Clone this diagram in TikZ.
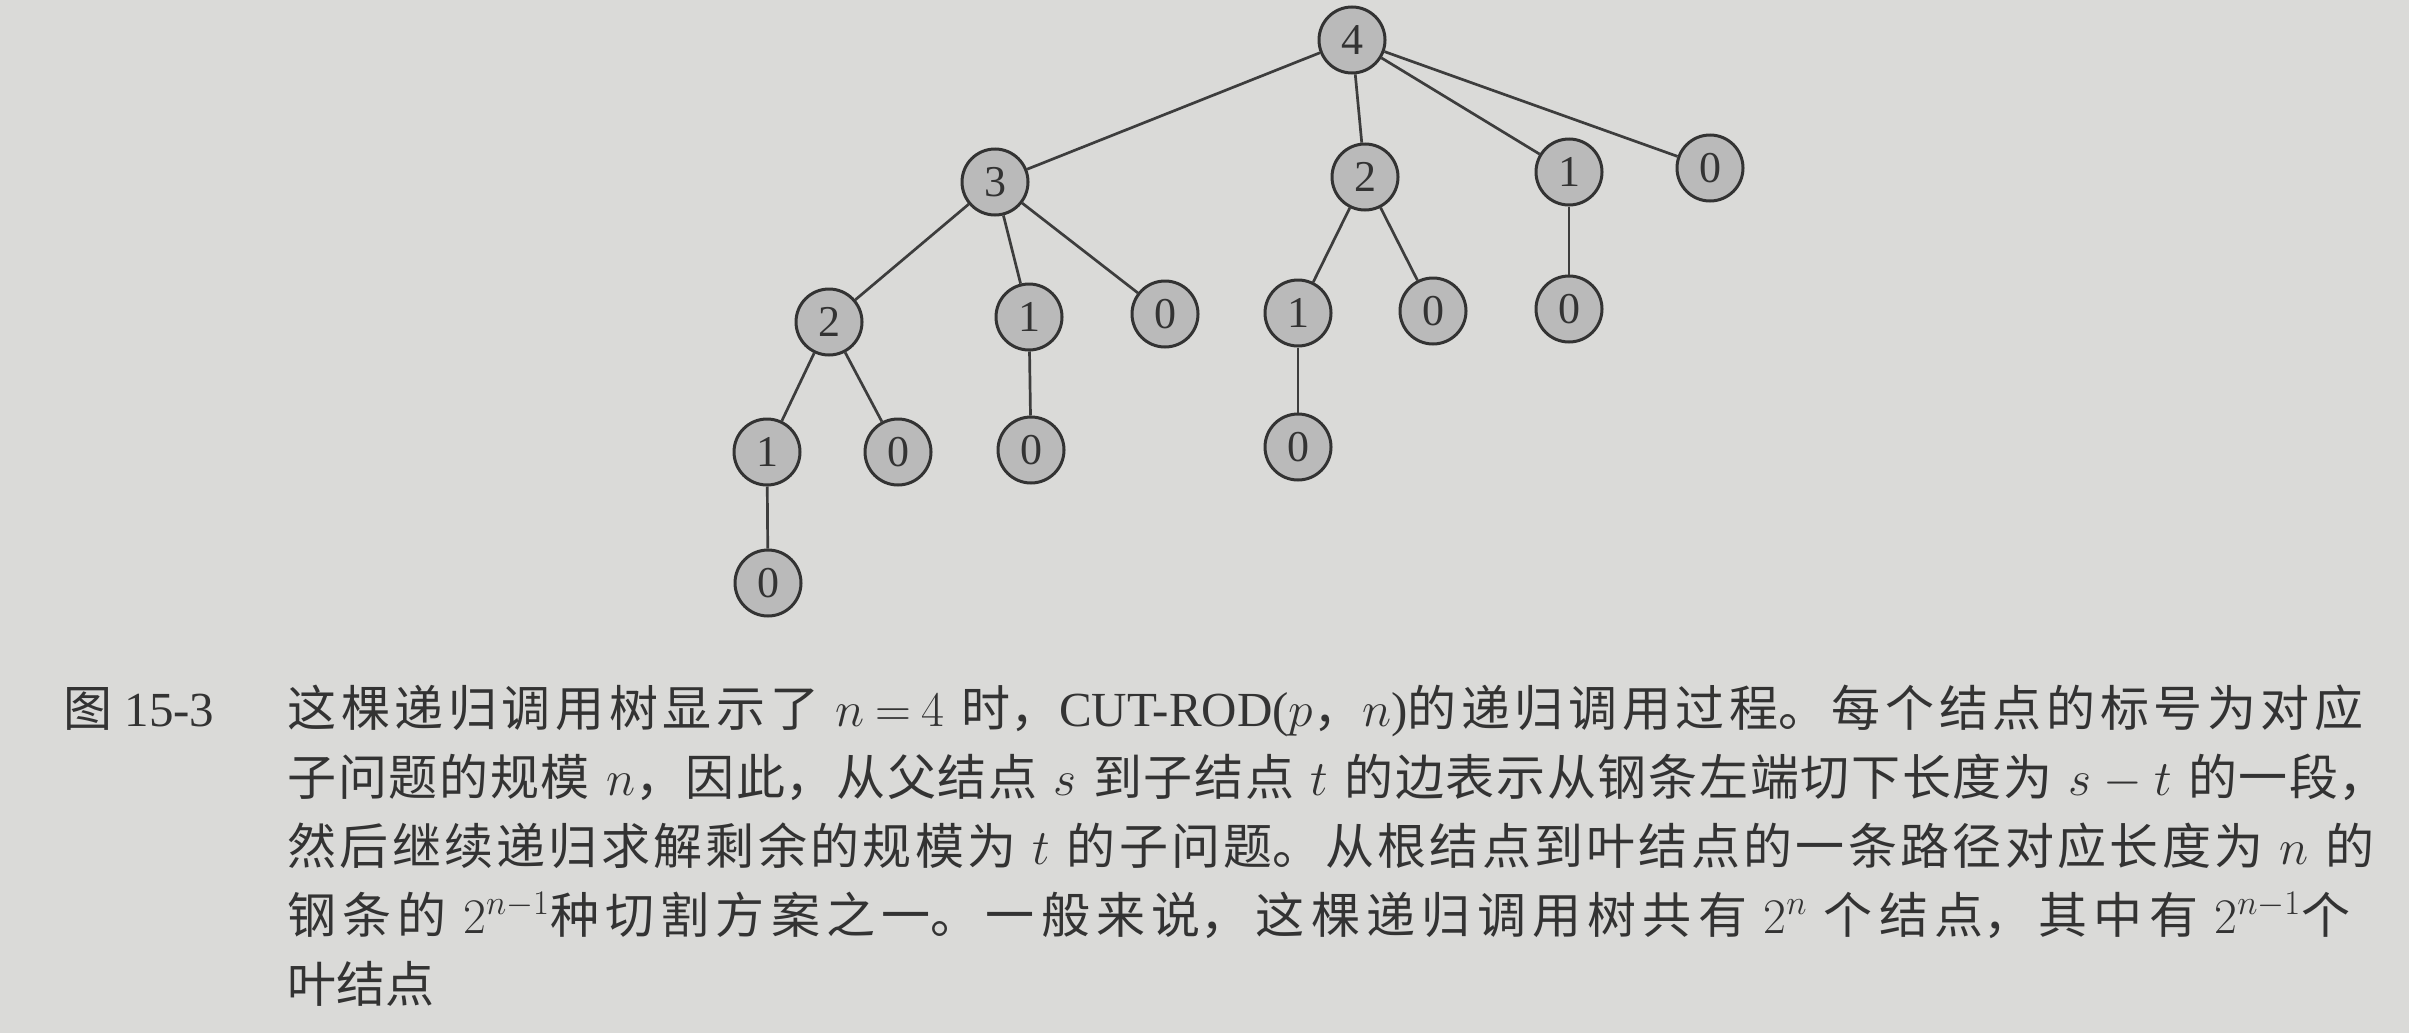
\documentclass[tikz,border=0pt]{standalone}
\usepackage{fontspec}
\setmainfont{Liberation Serif}
\newfontfamily\cjk{Noto Sans CJK SC}
\XeTeXlinebreaklocale "zh"
\XeTeXlinebreakskip=0pt plus 6pt minus 1pt
\definecolor{paper}{HTML}{DADAD8}
\definecolor{nodefill}{HTML}{BABABA}
\definecolor{ink}{HTML}{333333}
\newcommand{\capline}[1]{\parfillskip=0pt\tolerance=10000\relax\noindent #1\par}
\begin{document}
\begin{tikzpicture}[x=0.5pt,y=-0.5pt,
  tn/.style={circle, draw=ink, line width=1.5pt, fill=nodefill, minimum size=33pt,
    inner sep=0pt, font=\fontsize{22}{22}\selectfont, text=ink},
  edgeline/.style={draw=ink!95, line width=1.35pt},
  capfont/.style={font=\fontsize{24.5}{28}\selectfont, text=ink, inner sep=0pt},
  capjust/.style={capfont, anchor=base west, text width=1057pt}]
\fill[paper] (0,0) rectangle (2409,1033);
\useasboundingbox (0,0) rectangle (2409,1033);
% tree nodes
\node[tn] (r4) at (1352,40) {4};
\node[tn] (a3) at (995,182) {3};
\node[tn] (b2) at (1365,177) {2};
\node[tn] (c1) at (1569,172) {1};
\node[tn] (d0) at (1710,168) {0};
\node[tn] (e2) at (829,322) {2};
\node[tn] (f1) at (1029,317) {1};
\node[tn] (g0) at (1165,314) {0};
\node[tn] (h1) at (1298,313) {1};
\node[tn] (i0) at (1433,311) {0};
\node[tn] (j0) at (1569,309) {0};
\node[tn] (k1) at (767,452) {1};
\node[tn] (l0) at (898,452) {0};
\node[tn] (m0) at (1031,450) {0};
\node[tn] (n0) at (1298,447) {0};
\node[tn] (o0) at (768,583) {0};
% edges
\foreach \p/\c in {r4/a3,r4/b2,r4/c1,r4/d0,a3/e2,a3/f1,a3/g0,b2/h1,b2/i0,c1/j0,e2/k1,e2/l0,f1/m0,h1/n0,k1/o0}
  \draw[edgeline] (\p) -- (\c);
% caption
\node[capfont, anchor=base west] (fig) at (63,726) {{\cjk 图} 15-3};
\node[capjust] (l1) at (287,726) {\capline{{\cjk 这棵递归调用树显示了} $n\!=\!4$ {\cjk 时，}CUT-ROD($p${\cjk ，}$n$){\cjk 的递归调用过程。每个结点的标号为对应}}};
\node[capjust] (l2) at (287,795) {\capline{{\cjk 子问题的规模} $n${\cjk ，因此，从父结点} $s$ {\cjk 到子结点} $t$ {\cjk 的边表示从钢条左端切下长度为} $s-t$ {\cjk 的一段，}}};
\node[capjust] (l3) at (287,864) {\capline{{\cjk 然后继续递归求解剩余的规模为} $t$ {\cjk 的子问题。从根结点到叶结点的一条路径对应长度为} $n$ {\cjk 的}}};
\node[capjust] (l4) at (287,933) {\capline{{\cjk 钢条的} $2^{n-1}${\cjk 种切割方案之一。一般来说，这棵递归调用树共有} $2^n$ {\cjk 个结点，其中有} $2^{n-1}${\cjk 个}}};
\node[capfont, anchor=base west] (l5) at (287,1002) {{\cjk 叶结点}};
\end{tikzpicture}
\end{document}
